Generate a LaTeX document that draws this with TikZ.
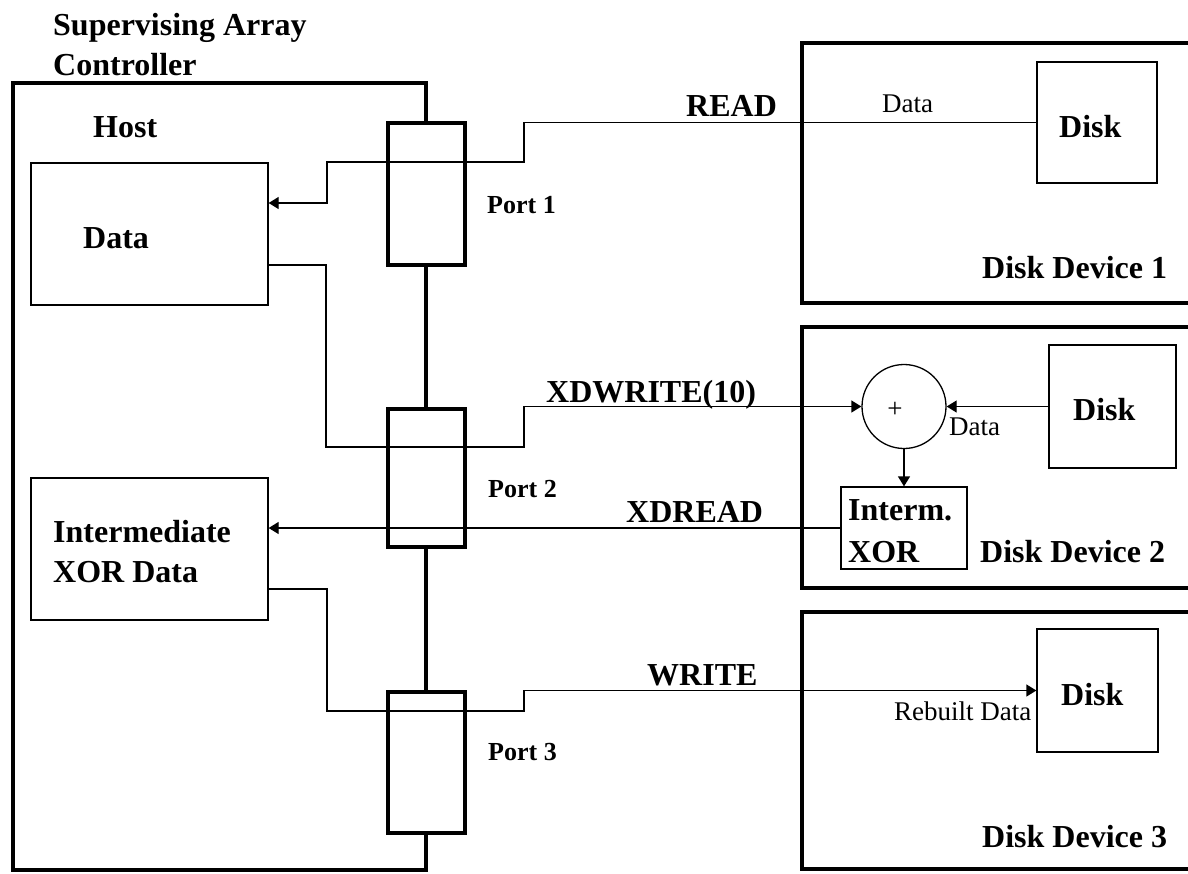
\documentclass[tikz,border=0pt]{standalone}
\usepackage{fontspec}
\setmainfont{Liberation Serif}
\usetikzlibrary{arrows.meta}
\begin{document}
\begin{tikzpicture}[x=1pt,y=-1pt,
  thickbox/.style={draw,line width=4pt,inner sep=0,minimum width=#1},
  thinbox/.style={draw,line width=1.3pt,inner sep=0},
  conn/.style={line width=1.3pt},
  arr/.style={conn,-{Triangle[length=10pt,width=12pt]}},
  big/.style={inner sep=0,anchor=base west,font=\fontsize{32}{38}\selectfont\bfseries},
  portlbl/.style={inner sep=0,anchor=base west,font=\fontsize{26}{30}\selectfont\bfseries},
  small/.style={inner sep=0,anchor=base west,font=\fontsize{27}{30}\selectfont},
]
\useasboundingbox (0,0) rectangle (1188,873);
\clip (0,0) rectangle (1188,873);

% host
\node[thickbox=413pt, minimum height=787pt] (host) at (219.5,476.5) {};
\node[big] (title1) at (53,35) {Supervising Array};
\node[big] (title2) at (53,75) {Controller};
\node[big] (hostlbl) at (93,137) {Host};

% data boxes in host
\node[thinbox, minimum width=237pt, minimum height=142pt] (data) at (149.5,234) {};
\node[big] (datalbl) at (83,248) {Data};
\node[thinbox, minimum width=237pt, minimum height=142pt] (imd) at (149.5,549) {};
\node[big] (imdlbl1) at (53,542) {Intermediate};
\node[big] (imdlbl2) at (53,582) {XOR Data};

% ports
\node[thickbox=77pt, minimum height=142pt, fill=white] (p1) at (426.5,194) {};
\node[thickbox=77pt, minimum height=138pt, fill=white] (p2) at (426.5,477.5) {};
\node[thickbox=77pt, minimum height=141pt, fill=white] (p3) at (426.5,762.5) {};
\node[portlbl] (p1lbl) at (487,213) {Port 1};
\node[portlbl] (p2lbl) at (488,497) {Port 2};
\node[portlbl] (p3lbl) at (488,760) {Port 3};

% disk devices
\node[thickbox=448pt, minimum height=260pt] (dev1) at (1026,173) {};
\node[thickbox=448pt, minimum height=261pt] (dev2) at (1026,457.5) {};
\node[thickbox=448pt, minimum height=257pt] (dev3) at (1026,740.5) {};
\node[big] (dev1lbl) at (982,278) {Disk Device 1};
\node[big] (dev2lbl) at (980,562) {Disk Device 2};
\node[big] (dev3lbl) at (982,847) {Disk Device 3};

% disks
\node[thinbox, minimum width=120pt, minimum height=121pt] (disk1) at (1097,122.5) {};
\node[big] (disk1lbl) at (1059,137) {Disk};
\node[thinbox, minimum width=127pt, minimum height=123pt] (disk2) at (1112.5,406.5) {};
\node[big] (disk2lbl) at (1073,420) {Disk};
\node[thinbox, minimum width=121pt, minimum height=123pt] (disk3) at (1097.5,690.5) {};
\node[big] (disk3lbl) at (1061,705) {Disk};

% xor circle and intermediate box in device 2
\node[thinbox, circle, minimum size=84pt] (xor) at (904,406.5) {};
\node[inner sep=0, font=\fontsize{27}{30}\selectfont] (plus) at (895,410) {+};
\node[thinbox, minimum width=126pt, minimum height=82pt] (interm) at (904,528) {};
\node[big] (intermlbl1) at (848,520) {Interm.};
\node[big] (intermlbl2) at (848,562) {XOR};

% connectors
\coordinate (r1a) at (524,122.5);
\coordinate (r1b) at (524,162);
\coordinate (r1c) at (327,162);
\coordinate (r1d) at (327,203);
\draw[arr] (disk1.west) -- (r1a) -- (r1b) -- (r1c) -- (r1d) -- (r1d -| data.east);

\coordinate (w1a) at (326,265);
\coordinate (w1b) at (326,447);
\coordinate (w1c) at (524,447);
\coordinate (w1d) at (524,406.5);
\draw[arr] (w1a -| data.east) -- (w1a) -- (w1b) -- (w1c) -- (w1d) -- (xor.west);

\draw[arr] (disk2.west) -- (xor.east);
\draw[arr] (xor.south) -- (interm.north);
\draw[arr] (interm.west) -- (interm.west -| imd.east);

\coordinate (w2a) at (327,589);
\coordinate (w2b) at (327,711);
\coordinate (w2c) at (524,711);
\coordinate (w2d) at (524,690.5);
\draw[arr] (w2a -| imd.east) -- (w2a) -- (w2b) -- (w2c) -- (w2d) -- (disk3.west);

% connector labels
\node[big] (readlbl) at (686,116) {READ};
\node[big] (xdwlbl) at (546,402) {XDWRITE(10)};
\node[big] (xdrlbl) at (626,522) {XDREAD};
\node[big] (writelbl) at (647,685) {WRITE};
\node[small] (data1lbl) at (882,112) {Data};
\node[small] (data2lbl) at (949,435) {Data};
\node[small] (rebuiltlbl) at (894,720) {Rebuilt Data};
\end{tikzpicture}
\end{document}
